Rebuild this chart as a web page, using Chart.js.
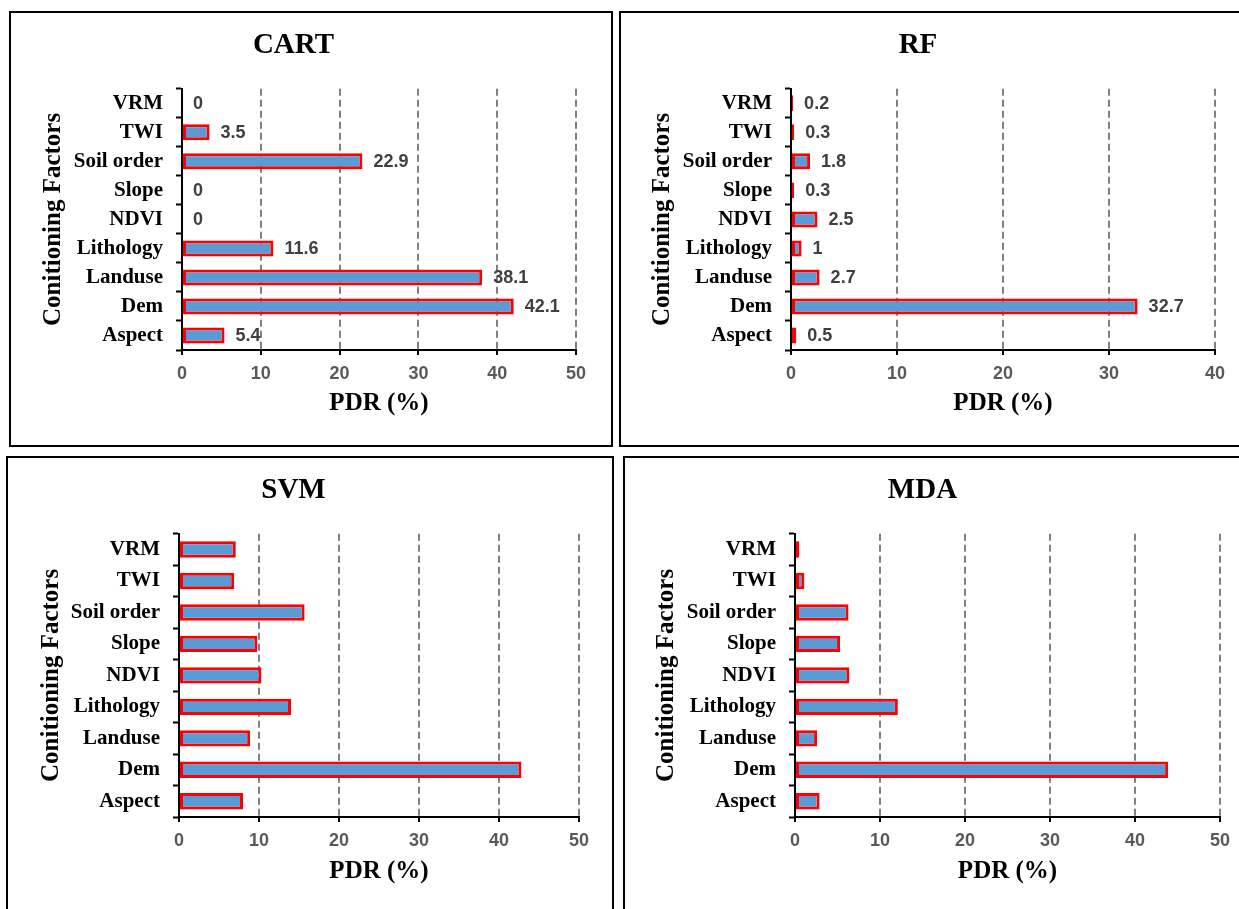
<!DOCTYPE html>
<html>
<head>
<meta charset="utf-8">
<script src="https://cdn.jsdelivr.net/npm/chart.js@4.4.1/dist/chart.umd.min.js"></script>
<style>
  html, body { margin: 0; padding: 0; background: #fff; overflow: hidden; }
  body { width: 1239px; height: 909px; position: relative; }
  .panel { position: absolute; border: 2px solid #000; box-sizing: content-box; }
  .panel canvas { position: absolute; left: 0; top: 0; }
</style>
</head>
<body>
<div class="panel" id="p-cart" style="left:9px;top:11px;width:600px;height:432px;"><canvas id="cartChart"></canvas></div>
<div class="panel" id="p-rf" style="left:619px;top:11px;width:628px;height:432px;"><canvas id="rfChart"></canvas></div>
<div class="panel" id="p-svm" style="left:6px;top:456px;width:604px;height:460px;"><canvas id="svmChart"></canvas></div>
<div class="panel" id="p-mda" style="left:623px;top:456px;width:627px;height:460px;"><canvas id="mdaChart"></canvas></div>
<script>
// 変数（上から順）
const factors = ["VRM", "TWI", "Soil order", "Slope", "NDVI", "Lithology", "Landuse", "Dem", "Aspect"];

const cartValues = [0, 3.5, 22.9, 0, 0, 11.6, 38.1, 42.1, 5.4];
const rfValues = [0.2, 0.3, 1.8, 0.3, 2.5, 1, 2.7, 32.7, 0.5];
const svmValues = [7.1, 6.9, 15.7, 9.8, 10.3, 14.0, 8.9, 42.8, 8.0];
const mdaValues = [0.5, 1.1, 6.3, 5.3, 6.4, 12.1, 2.6, 43.9, 2.9];

const cartTicks = [0, 10, 20, 30, 40, 50];
const rfTicks = [0, 10, 20, 30, 40];

const xTitle = "PDR (%)";
const yTitle = "Conitioning Factors";

const SERIF = "'Liberation Serif', 'Times New Roman', serif";
const SANS = "'Liberation Sans', Arial, sans-serif";

// バー右端に値を描く
const valueLabels = {
  id: "valueLabels",
  afterDatasetsDraw(chart, args, opts) {
    if (!opts || !opts.show) return;
    const { ctx } = chart;
    const meta = chart.getDatasetMeta(0);
    const data = chart.data.datasets[0].data;
    ctx.save();
    ctx.font = `bold 18px ${SANS}`;
    ctx.fillStyle = "#404040";
    ctx.textAlign = "left";
    ctx.textBaseline = "middle";
    meta.data.forEach((bar, i) => {
      ctx.fillText(String(data[i]), bar.x + 11, bar.y + 1);
    });
    ctx.restore();
  },
};

function makeChart(id, values, ticks, lay) {
  const el = document.getElementById(id);
  el.width = lay.w;
  el.height = lay.h;
  el.style.width = lay.w + "px";
  el.style.height = lay.h + "px";
  const max = ticks[ticks.length - 1];
  return new Chart(el, {
    type: "bar",
    data: {
      labels: factors,
      datasets: [{
        data: values,
        backgroundColor: "#5b9bd5",
        borderColor: "#ff0000",
        borderWidth: 3,
        borderSkipped: false,
        barPercentage: lay.barPct,
        categoryPercentage: 1,
      }],
    },
    options: {
      indexAxis: "y",
      responsive: false,
      animation: false,
      events: [],
      layout: { padding: { left: 0, right: lay.padR, top: 0, bottom: lay.padB } },
      plugins: {
        legend: { display: false },
        tooltip: { enabled: false },
        title: {
          display: true,
          text: lay.title,
          color: "#000",
          font: { family: SERIF, size: 29, weight: "bold" },
          padding: { top: 15, bottom: lay.titleGap },
        },
        valueLabels: { show: lay.labels },
      },
      scales: {
        x: {
          min: 0,
          max: max,
          afterBuildTicks: (s) => { s.ticks = ticks.map((v) => ({ value: v })); },
          afterFit: (s) => { s.height = lay.xH; },
          border: { display: true, color: "#000", width: 2, dash: [7, 4] },
          grid: {
            color: (c) => (c.tick && c.tick.value === 0 ? "rgba(0,0,0,0)" : "#808080"),
            lineWidth: 2,
            tickLength: 5,
            tickColor: "#000",
            tickWidth: 2,
            tickBorderDash: [],
          },
          ticks: {
            color: "#595959",
            font: { family: SANS, size: 18, weight: "bold" },
            padding: 8,
            maxRotation: 0,
          },
          title: {
            display: true,
            text: xTitle,
            color: "#000",
            font: { family: SERIF, size: 25, weight: "bold" },
            padding: { top: 0, bottom: 0 },
          },
        },
        y: {
          afterFit: (s) => { s.width = lay.yW; },
          border: { display: true, color: "#000", width: 2 },
          grid: {
            display: true,
            drawOnChartArea: false,
            offset: true,
            tickLength: 6,
            tickColor: "#000",
            tickWidth: 2,
          },
          ticks: {
            color: "#000",
            font: { family: SERIF, size: 21, weight: "bold" },
            padding: 13,
          },
          title: {
            display: true,
            text: yTitle,
            color: "#000",
            font: { family: SERIF, size: 25, weight: "bold" },
            padding: { top: lay.yTitlePad, bottom: 0 },
          },
        },
      },
    },
    plugins: [valueLabels],
  });
}

makeChart("cartChart", cartValues, cartTicks, {
  title: "CART", labels: true, w: 600, h: 432, barPct: 0.55,
  padR: 35, padB: 26, titleGap: 26, xH: 69, yW: 171, yTitlePad: 28,
});
makeChart("rfChart", rfValues, rfTicks, {
  title: "RF", labels: true, w: 628, h: 432, barPct: 0.55,
  padR: 34, padB: 26, titleGap: 26, xH: 69, yW: 170, yTitlePad: 27,
});
makeChart("svmChart", svmValues, cartTicks, {
  title: "SVM", labels: false, w: 604, h: 460, barPct: 0.52,
  padR: 33, padB: 31, titleGap: 26, xH: 70, yW: 171, yTitlePad: 29,
});
makeChart("mdaChart", mdaValues, cartTicks, {
  title: "MDA", labels: false, w: 627, h: 460, barPct: 0.52,
  padR: 32, padB: 31, titleGap: 26, xH: 70, yW: 170, yTitlePad: 27,
});
</script>
</body>
</html>
